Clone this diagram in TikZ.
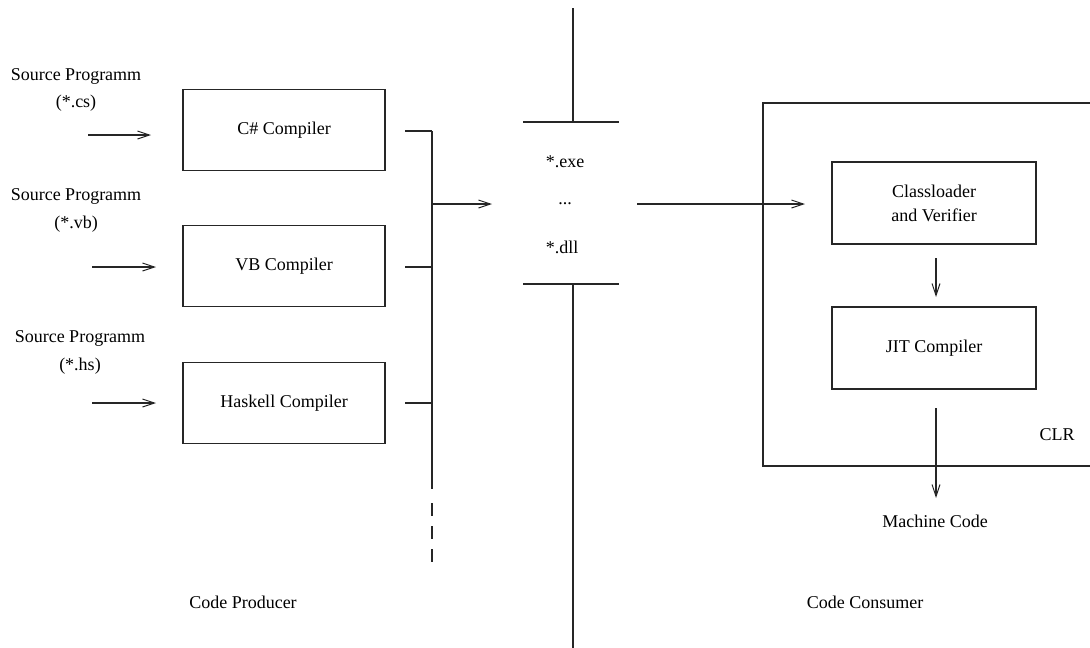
\documentclass[tikz,border=0pt]{standalone}
\usepackage{fontspec}
\setmainfont{Liberation Serif}
\usetikzlibrary{arrows.meta}
\begin{document}
\begin{tikzpicture}[x=1pt,y=-1pt,
  font=\fontsize{18}{24}\selectfont,
  ln/.style={line width=1.1pt,draw=black!85},
  arr/.style={ln,-{Straight Barb[length=12pt,width=8pt,line width=1pt]}},
  compbox/.style={draw,ln,text=black,minimum width=202pt,minimum height=81pt,inner sep=0pt,align=center},
  lbl/.style={inner sep=0pt,align=center}]
\useasboundingbox (0,0) rectangle (1090,648);

% producer side: sources
\node[lbl] (s1) at (76,76) {Source Programm};
\node[lbl] (e1) at (76,103) {(*.cs)};
\node[lbl] (s2) at (76,196) {Source Programm};
\node[lbl] (e2) at (76,224) {(*.vb)};
\node[lbl] (s3) at (80,338) {Source Programm};
\node[lbl] (e3) at (80,366) {(*.hs)};

% compilers
\node[compbox] (cs) at (284,130) {C\# Compiler};
\node[compbox] (vb) at (284,266) {VB Compiler};
\node[compbox] (hs) at (284,403) {Haskell Compiler};

\coordinate (a1) at (88,135);  \coordinate (b1) at (151,135);
\coordinate (a2) at (92,267);  \coordinate (b2) at (156,267);
\coordinate (a3) at (92,403);  \coordinate (b3) at (156,403);
\draw[arr] (a1) -- (b1);
\draw[arr] (a2) -- (b2);
\draw[arr] (a3) -- (b3);

% collecting bus
\coordinate (t1) at (405,131); \coordinate (j1) at (432,131);
\coordinate (t2) at (405,267); \coordinate (j2) at (432,267);
\coordinate (t3) at (405,403); \coordinate (j3) at (432,403);
\coordinate (busend) at (432,489);
\coordinate (dashA) at (432,503);
\coordinate (dashB) at (432,562);
\draw[ln] (t1) -- (j1);
\draw[ln] (t2) -- (j2);
\draw[ln] (t3) -- (j3);
\draw[ln] (j1) -- (busend);
\draw[ln,dash pattern=on 13pt off 10pt] (dashA) -- (dashB);

% assemblies
\node[lbl] (exe) at (565,162) {*.exe};
\node[lbl] (dots) at (565,204) {...};
\node[lbl] (dll) at (562,247) {*.dll};
\coordinate (bj) at (432,204); \coordinate (bin) at (492,204);
\draw[arr] (bj) -- (bin);

% dividing line
\coordinate (v0) at (573,8);   \coordinate (v1) at (573,122);
\coordinate (h1l) at (523,122); \coordinate (h1r) at (619,122);
\coordinate (h2l) at (523,284); \coordinate (h2r) at (619,284);
\coordinate (v2) at (573,284); \coordinate (v3) at (573,648);
\draw[ln] (v0) -- (v1);
\draw[ln] (h1l) -- (h1r);
\draw[ln] (h2l) -- (h2r);
\draw[ln] (v2) -- (v3);

% consumer side
\coordinate (clrtl) at (763,103); \coordinate (clrbr) at (1100,466);
\draw[ln] (clrtl) rectangle (clrbr);
\node[lbl] (clr) at (1057,435) {CLR};
\node[compbox,minimum width=204pt,minimum height=82pt] (cl) at (934,203) {Classloader\\and Verifier};
\node[compbox,minimum width=204pt,minimum height=82pt] (jit) at (934,348) {JIT Compiler};
\node[lbl] (mc) at (935,521) {Machine Code};

\coordinate (o1) at (637,204); \coordinate (o2) at (805,204);
\draw[arr] (o1) -- (o2);
\coordinate (c1) at (936,258); \coordinate (c2) at (936,297);
\draw[arr] (c1) -- (c2);
\coordinate (m1) at (936,408); \coordinate (m2) at (936,498);
\draw[arr] (m1) -- (m2);

% section captions
\node[lbl] (prod) at (243,602) {Code Producer};
\node[lbl] (cons) at (865,602) {Code Consumer};
\end{tikzpicture}
\end{document}
